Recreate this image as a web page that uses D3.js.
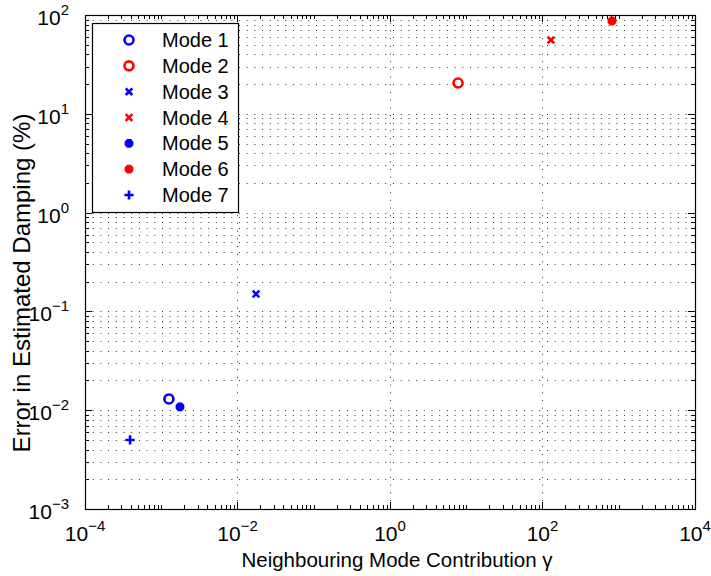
<!DOCTYPE html>
<html>
<head>
<meta charset="utf-8">
<script src="https://cdn.jsdelivr.net/npm/d3@7"></script>
<style>
  body { margin: 0; background: #fff; }
  text { font-family: "Liberation Sans", Arial, sans-serif; fill: #000; }
</style>
</head>
<body>
<svg id="chart"></svg>
<script>
const modes = ["Mode 1", "Mode 2", "Mode 3", "Mode 4", "Mode 5", "Mode 6", "Mode 7"];
const gamma = [1.26e-3, 7.8, 0.0175, 129, 1.76e-3, 815, 3.9e-4];
const dampErr = [0.0130, 20.5, 0.150, 55.8, 0.0108, 86.9, 0.0050];
const xTickExps = [-4, -2, 0, 2, 4];
const yTickExps = [-3, -2, -1, 0, 1, 2];

// marker style per mode
const markerColor = ["#0000ff", "#ff0000", "#0000ff", "#ff0000", "#0000ff", "#ff0000", "#0000ff"];
const markerShape = ["circle", "circle", "times", "times", "star", "star", "plus"];

const margin = { top: 15, right: 16, bottom: 67, left: 85 },
  width = 711 - margin.left - margin.right,
  height = 576 - margin.top - margin.bottom;

const root = d3.select("#chart").attr("width", 711).attr("height", 576);
const svg = root.append("g").attr("transform", `translate(${margin.left},${margin.top})`);

const x = d3.scaleLog().domain([1e-4, 1e4]).range([0, width]);
const y = d3.scaleLog().domain([1e-3, 1e2]).range([height, 0]);

// all 1..9 x 10^k values inside a domain
function logSteps(lo, hi) {
  const out = [];
  for (let e = lo; e < hi; e++) {
    for (let m = 1; m <= 9; m++) out.push(m * Math.pow(10, e));
  }
  out.push(Math.pow(10, hi));
  return out;
}
const xMinor = logSteps(-4, 4);
const yMinor = logSteps(-3, 2);
const xMajor = xTickExps.map((e) => Math.pow(10, e));
const yMajor = yTickExps.map((e) => Math.pow(10, e));

// grid (dotted)
const grid = svg.append("g").attr("stroke", "#333").attr("stroke-width", 1).attr("stroke-dasharray", "1,6.7");
grid.selectAll(".hg").data(yMinor.filter((v) => v > 1e-3 && v < 1e2)).enter()
  .append("line")
  .attr("x1", 0).attr("x2", width)
  .attr("y1", (d) => Math.round(y(d)) + 0.5).attr("y2", (d) => Math.round(y(d)) + 0.5);
grid.selectAll(".vg").data(xMajor.filter((v) => v > 1e-4 && v < 1e4)).enter()
  .append("line")
  .attr("y1", 0).attr("y2", height)
  .attr("x1", (d) => Math.round(x(d)) + 0.5).attr("x2", (d) => Math.round(x(d)) + 0.5);

// ticks on all four sides, pointing inward
const ticks = svg.append("g").attr("stroke", "#000").attr("stroke-width", 1);
function xTickLen(d) { return xMajor.includes(d) ? 7 : 4; }
function yTickLen(d) { return yMajor.includes(d) ? 7 : 4; }
xMinor.forEach((d) => {
  const px = Math.round(x(d)) + 0.5;
  ticks.append("line").attr("x1", px).attr("x2", px).attr("y1", height).attr("y2", height - xTickLen(d));
  ticks.append("line").attr("x1", px).attr("x2", px).attr("y1", 0).attr("y2", xTickLen(d));
});
yMinor.forEach((d) => {
  const py = Math.round(y(d)) + 0.5;
  ticks.append("line").attr("y1", py).attr("y2", py).attr("x1", 0).attr("x2", yTickLen(d));
  ticks.append("line").attr("y1", py).attr("y2", py).attr("x1", width).attr("x2", width - yTickLen(d));
});

// axes box
svg.append("rect")
  .attr("x", 0.5).attr("y", 0.5)
  .attr("width", width).attr("height", height)
  .attr("fill", "none").attr("stroke", "#000").attr("stroke-width", 1.2);

// tick labels
function powLabel(sel, e) {
  sel.append("tspan").text("10");
  sel.append("tspan").attr("dy", -10).style("font-size", "15px").text(String(e).replace("-", "\u2212"));
}
xTickExps.forEach((e) => {
  const t = svg.append("text")
    .attr("x", x(Math.pow(10, e)))
    .attr("y", height + 32)
    .attr("text-anchor", "middle")
    .style("font-size", "21px");
  powLabel(t, e);
});
yTickExps.forEach((e) => {
  const t = svg.append("text")
    .attr("x", -16)
    .attr("y", y(Math.pow(10, e)) + 10)
    .attr("text-anchor", "end")
    .style("font-size", "21px");
  powLabel(t, e);
});

// axis labels
svg.append("text")
  .attr("x", width / 2 + 7)
  .attr("y", height + 58)
  .attr("text-anchor", "middle")
  .style("font-size", "20.5px")
  .text("Neighbouring Mode Contribution \u03b3");

svg.append("text")
  .attr("transform", `translate(${-55},${height / 2 + 21}) rotate(-90)`)
  .attr("text-anchor", "middle")
  .style("font-size", "24px")
  .text("Error in Estimated Damping (%)");

// markers
function markerPath(shape) {
  const p = d3.path();
  if (shape === "circle") {
    p.moveTo(4.5, 0);
    p.arc(0, 0, 4.5, 0, 2 * Math.PI);
  } else if (shape === "times") {
    const s = 3.3;
    p.moveTo(-s, -s); p.lineTo(s, s);
    p.moveTo(-s, s); p.lineTo(s, -s);
  } else if (shape === "plus") {
    const s = 4.6;
    p.moveTo(-s, 0); p.lineTo(s, 0);
    p.moveTo(0, -s); p.lineTo(0, s);
  } else if (shape === "star") {
    const s = 4.4;
    for (let k = 0; k < 4; k++) {
      const a = (k * Math.PI) / 4;
      p.moveTo(-s * Math.cos(a), -s * Math.sin(a));
      p.lineTo(s * Math.cos(a), s * Math.sin(a));
    }
  }
  return p.toString();
}
function drawMarker(g, shape, color) {
  g.append("path")
    .attr("d", markerPath(shape))
    .attr("fill", shape === "star" ? color : "none")
    .attr("stroke", color)
    .attr("stroke-width", shape === "star" ? 3.4 : 2.6);
}

const pts = svg.append("g");
modes.forEach((m, i) => {
  const g = pts.append("g").attr("transform", `translate(${x(gamma[i])},${y(dampErr[i])})`);
  drawMarker(g, markerShape[i], markerColor[i]);
});

// legend
const legend = svg.append("g").attr("transform", "translate(7,8)");
legend.append("rect")
  .attr("x", 0.5).attr("y", 0.5)
  .attr("width", 146).attr("height", 189)
  .attr("fill", "#fff").attr("stroke", "#000").attr("stroke-width", 1.2);
const rowY = d3.scalePoint().domain(modes).range([17, 172]);
modes.forEach((m, i) => {
  const g = legend.append("g").attr("transform", `translate(37,${rowY(m)})`);
  drawMarker(g, markerShape[i], markerColor[i]);
  legend.append("text")
    .attr("x", 70)
    .attr("y", rowY(m) + 7)
    .style("font-size", "20px")
    .text(m);
});
</script>
</body>
</html>
